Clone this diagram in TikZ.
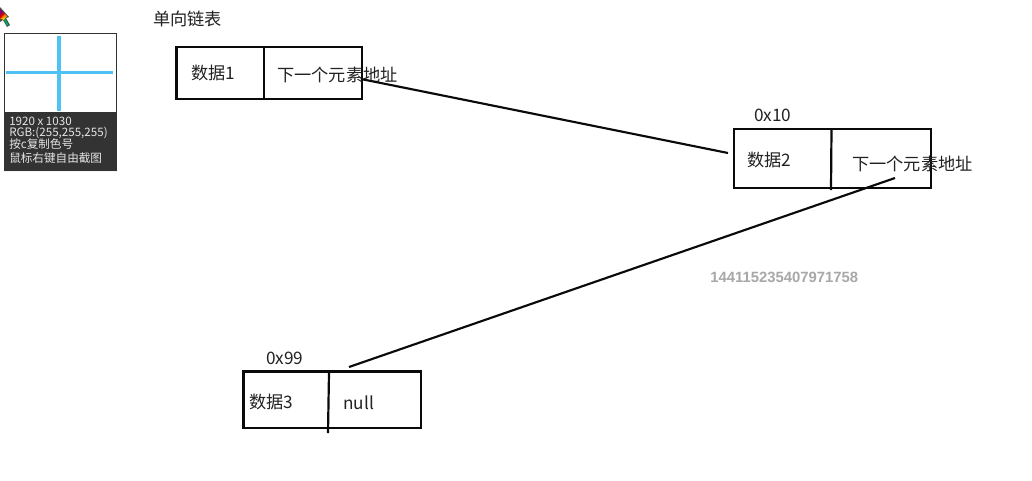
\documentclass[tikz,border=0pt]{standalone}
\usepackage{fontspec}
\setmainfont{Noto Sans CJK SC}
\newfontfamily\numfont{Liberation Sans}
\definecolor{ink}{HTML}{0A0A0A}
\definecolor{txt}{HTML}{222222}
\definecolor{crossblue}{HTML}{4FC1F5}
\definecolor{panel}{HTML}{333333}
\definecolor{numgray}{HTML}{A8A8A8}
\begin{document}
\begin{tikzpicture}[x=0.75pt,y=-0.75pt,
  cell/.style={draw=ink,line width=1.65pt,inner sep=0pt,outer sep=0pt,anchor=north west},
  divider/.style={draw=ink,line width=1.65pt},
  link/.style={draw=ink,line width=1.6pt},
  label/.style={inner sep=0pt,text=txt,font=\fontsize{12.9pt}{14pt}\selectfont,anchor=west},
  info/.style={inner sep=0pt,text=white!90!black,font=\fontsize{8.7pt}{9pt}\selectfont,anchor=west}]
\useasboundingbox[fill=white] (0,0) rectangle (1032,480);
% screenshot tool overlay
\fill[black!5] (5,170) rectangle (118,172);
\node[draw=panel,line width=0.7pt,fill=white,minimum width=84pt,minimum height=102.5pt,inner sep=0pt,outer sep=0pt,anchor=north west] (widget) at (4,33.5) {};
\node[fill=panel,minimum width=84pt,minimum height=43.5pt,inner sep=0pt,outer sep=0pt,anchor=north west] (panelbox) at (4,112) {};
\draw[crossblue,line width=2.8pt] (59,36) -- (59,111);
\draw[crossblue,line width=2.8pt] (6,72.5) -- (113,72.5);
\node[info] (i1) at (9,121) {1920 x 1030};
\node[info] (i2) at (9,132.5) {RGB:(255,255,255)};
\node[info] (i3) at (9,144) {按c复制色号};
\node[info] (i4) at (9,158.5) {鼠标右键自由截图};
% cursor
\fill[black!70] (0,7) -- (9,17) -- (6,18) -- (10,25) -- (7,27) -- (3,20) -- (0,22) -- cycle;
\fill[violet] (0,9) -- (3,12) -- (0,16) -- cycle;
\fill[red!85!black] (3,12) -- (5,14) -- (0,19) -- (0,16) -- cycle;
\fill[orange] (5,14) -- (7,16) -- (2,19) -- (0,19) -- cycle;
\fill[yellow!90!orange] (2,19) -- (7,16) -- (5,18) -- (4,20) -- cycle;
\fill[teal!70!green] (5,18.5) -- (8.5,24.5) -- (7,26) -- (4,20) -- cycle;
% title
\node[label] (title) at (153,19) {单向链表};
% boxes
\node[cell,minimum width=139pt,minimum height=39pt] (box1) at (176.5,47) {};
\node[cell,minimum width=147.5pt,minimum height=44pt] (box2) at (734,129) {};
\node[cell,minimum width=133pt,minimum height=42.5pt] (box3) at (243.5,371.5) {};
\coordinate (d1a) at (264,47); \coordinate (d1b) at (264,100);
\coordinate (d2a) at (831.5,129); \coordinate (d2b) at (831,190);
\coordinate (d3a) at (329,373); \coordinate (d3b) at (328,433);
\draw[divider] (d1a) -- (d1b);
\draw[divider] (d2a) -- (d2b);
\draw[divider] (d3a) -- (d3b);
% labels
\node[label] (data1) at (191,73) {数据1};
\node[label] (next1) at (277,74.5) {下一个元素地址};
\node[label] (addr2) at (754,115.5) {0x10};
\node[label] (data2) at (747,160) {数据2};
\node[label] (next2) at (852,164) {下一个元素地址};
\node[label] (addr3) at (266,358.5) {0x99};
\node[label] (data3) at (249,402) {数据3};
\node[label] (nullv) at (343,403) {null};
\node[inner sep=0pt,anchor=west,text=numgray,font=\numfont\bfseries\fontsize{11.15pt}{12pt}\selectfont] (num) at (710,277) {144115235407971758};
% connectors
\coordinate (l1a) at (361,79); \coordinate (l1b) at (728,153);
\coordinate (l2a) at (895,178); \coordinate (l2b) at (349,367);
\draw[link] (l1a) -- (l1b);
\draw[link] (l2a) -- (l2b);
\end{tikzpicture}
\end{document}
